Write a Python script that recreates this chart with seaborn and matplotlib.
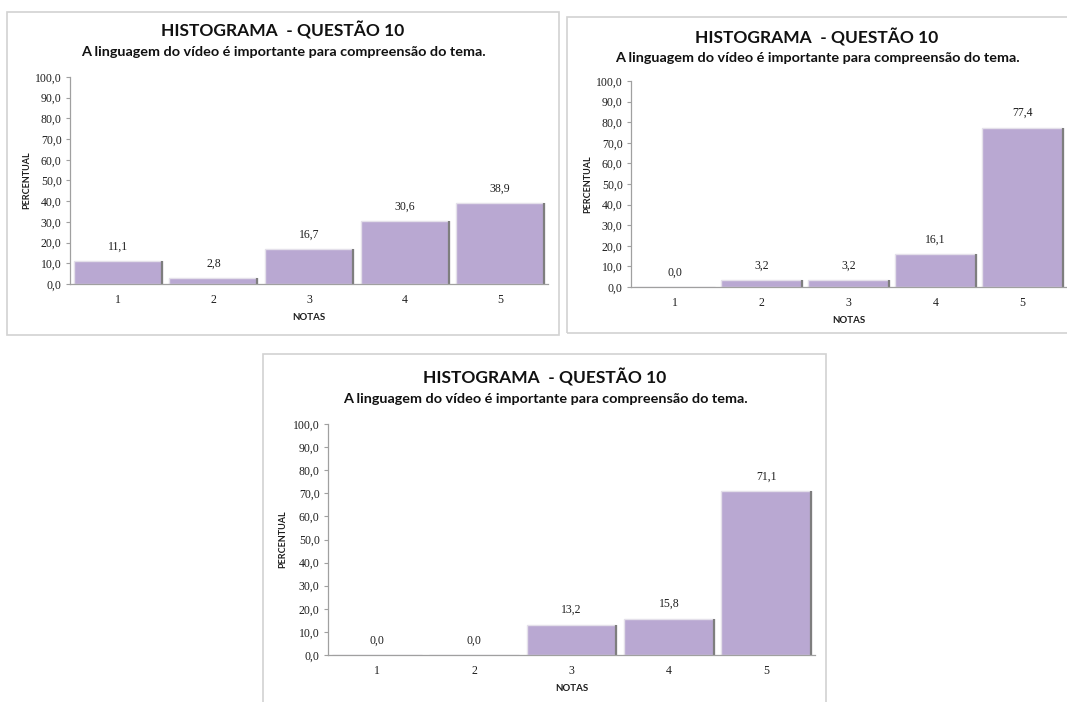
import matplotlib
matplotlib.use("Agg")
import matplotlib.pyplot as plt
from matplotlib.patches import Rectangle
from matplotlib.lines import Line2D
import seaborn as sns
import pandas as pd

sns.set_theme(style="white")
plt.rcParams["font.family"] = ["Lato", "DejaVu Sans"]

# ---- data ---------------------------------------------------------------
notas = ["1", "2", "3", "4", "5"]
percentual_a = [11.1, 2.8, 16.7, 30.6, 38.9]
percentual_b = [0.0, 3.2, 3.2, 16.1, 77.4]
percentual_c = [0.0, 0.0, 13.2, 15.8, 71.1]
y_ticks = [0, 10, 20, 30, 40, 50, 60, 70, 80, 90, 100]

titulo = "HISTOGRAMA  - QUESTÃO 10"
subtitulo = "A linguagem do vídeo é importante para compreensão do tema."

W, H = 1067, 702
BAR = "#B9A8D2"
AXIS = "#A0A0A0"
TXT = "#1E1E1E"
NUM_FONT = ["Liberation Serif", "DejaVu Serif"]


def fx(px):
    return px / W


def fy(py):
    return 1 - py / H


def fmt(v):
    return f"{v:.1f}".replace(".", ",")


fig = plt.figure(figsize=(W / 100, H / 100), dpi=100)
fig.patch.set_facecolor("white")

# panel layouts in pixels: frame box, plot box, title centre
panels = [
    dict(vals=percentual_a, frame=(7, 12, 559, 335), plot=(70, 77, 548, 284),
         cx=283, ty=30, sy=52, lab_x=27),
    dict(vals=percentual_b, frame=(567, 17, 1075, 333), plot=(631, 81, 1066, 287),
         cx=817, ty=37, sy=58, lab_x=588),
    dict(vals=percentual_c, frame=(263, 354, 826, 712), plot=(328, 424, 815, 655),
         cx=545, ty=377, sy=399, lab_x=283),
]

for p in panels:
    x0, y0, x1, y1 = p["frame"]
    fig.add_artist(Rectangle((fx(x0), fy(y1)), fx(x1 - x0), (y1 - y0) / H,
                             transform=fig.transFigure, fill=False,
                             edgecolor="#D2D2D2", linewidth=1.2))
    fig.text(fx(p["cx"]), fy(p["ty"]), titulo, ha="center", va="center",
             fontsize=12.5, fontweight="bold", color="#111111")
    fig.text(fx(p["cx"]), fy(p["sy"]), subtitulo, ha="center", va="center",
             fontsize=10.4, fontweight="bold", color="#111111")

    px0, py0, px1, py1 = p["plot"]
    ax = fig.add_axes([fx(px0), fy(py1), fx(px1 - px0), (py1 - py0) / H])
    df = pd.DataFrame({"nota": notas, "pct": p["vals"]})
    sns.barplot(data=df, x="nota", y="pct", color=BAR, saturation=1,
                width=0.92, edgecolor="#E4E0EA", linewidth=1.0, ax=ax)

    # right-hand shadow on each bar
    for patch in ax.patches:
        h = patch.get_height()
        if h <= 0:
            continue
        xr = patch.get_x() + patch.get_width()
        ax.add_line(Line2D([xr, xr], [0, h], color="#7E7E7E", linewidth=1.6,
                           solid_capstyle="butt"))

    # value labels
    for i, v in enumerate(p["vals"]):
        ax.annotate(fmt(v), (i, v), xytext=(0, 6), textcoords="offset points",
                    ha="center", va="bottom", fontsize=8.5,
                    family=NUM_FONT, color=TXT)

    ax.set_ylim(0, 100)
    ax.set_xlim(-0.5, 4.5)
    ax.set_yticks(y_ticks)
    ax.set_yticklabels([fmt(t) for t in y_ticks], family=NUM_FONT,
                       fontsize=8.5, color=TXT)
    ax.set_xticks(range(len(notas)))
    ax.set_xticklabels(notas, family=NUM_FONT, fontsize=8.5, color=TXT)
    ax.tick_params(axis="y", length=3, width=0.8, color=AXIS, pad=3,
                   left=True, direction="out")
    ax.tick_params(axis="x", length=0, pad=7)
    ax.set_facecolor("none")
    for side in ["top", "right"]:
        ax.spines[side].set_visible(False)
    for side in ["left", "bottom"]:
        ax.spines[side].set_color(AXIS)
        ax.spines[side].set_linewidth(0.9)
    ax.set_xlabel("NOTAS", fontsize=7, fontweight="bold", color=TXT, labelpad=5)
    ax.set_ylabel("")
    fig.text(fx(p["lab_x"]), fy((py0 + py1) / 2), "PERCENTUAL",
             rotation=90, ha="center", va="center", fontsize=6.5,
             fontweight="bold", color=TXT)

fig.savefig("out.png", dpi=100, facecolor="white")
